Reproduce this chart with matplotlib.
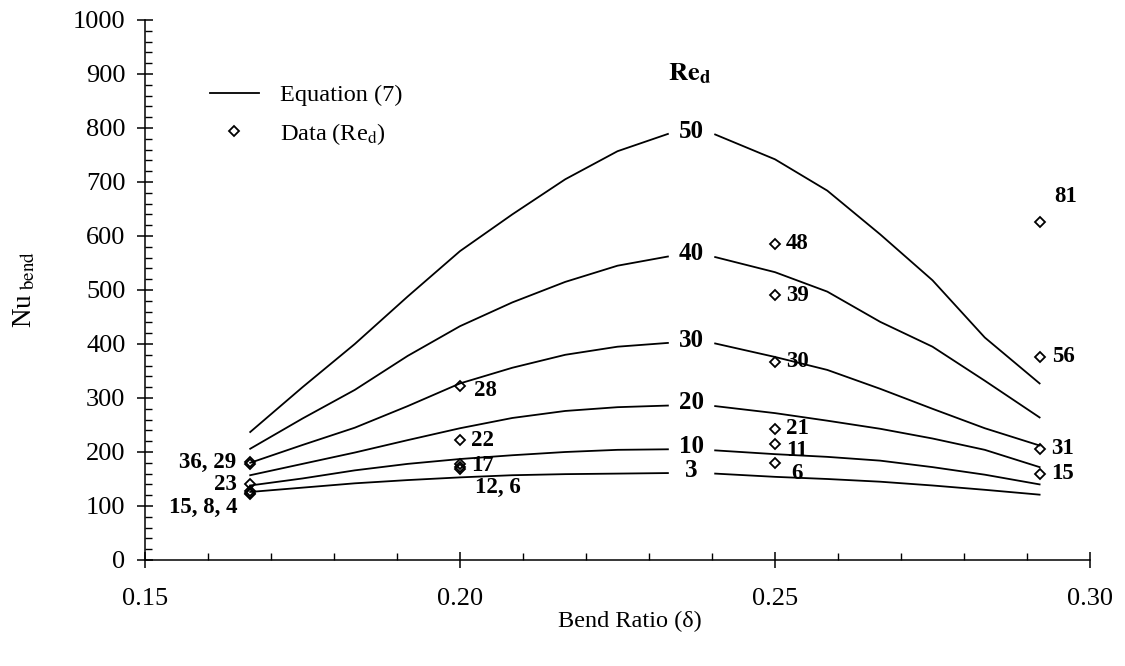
import matplotlib
matplotlib.use("Agg")
import matplotlib.pyplot as plt
from matplotlib.lines import Line2D
from matplotlib.ticker import MultipleLocator

plt.rcParams.update(
    {
        "font.family": "serif",
        "font.serif": ["Liberation Serif", "DejaVu Serif"],
        "mathtext.fontset": "stix",
        "axes.linewidth": 1.1,
    }
)

# Equation (7) curves, one per Re_d, split around the in-line label
re_values = [3, 10, 20, 30, 40, 50]
delta_left = [0.1667, 0.175, 0.1833, 0.1917, 0.20, 0.2083, 0.2167, 0.225, 0.233]
delta_right = [0.2405, 0.25, 0.2583, 0.2667, 0.275, 0.2833, 0.292]
nu_left = [
    [126, 134, 142, 148, 153, 157, 159, 160, 161],
    [138, 151, 166, 178, 187, 194, 200, 204, 205],
    [157, 178, 199, 222, 244, 263, 276, 283, 286],
    [180, 213, 245, 285, 327, 356, 380, 395, 402],
    [206, 262, 315, 378, 433, 477, 515, 545, 562],
    [237, 320, 400, 488, 572, 640, 705, 757, 789],
]
nu_right = [
    [160, 154, 150, 145, 138, 130, 121],
    [203, 196, 191, 184, 172, 158, 140],
    [285, 272, 258, 243, 225, 204, 172],
    [401, 376, 352, 317, 280, 244, 212],
    [561, 533, 497, 441, 395, 332, 264],
    [788, 742, 684, 603, 518, 412, 327],
]

# measured data points
data_delta = [0.1667] * 6 + [0.20] * 5 + [0.25] * 6 + [0.292] * 4
data_re = [36, 29, 23, 15, 8, 4, 28, 22, 17, 12, 6, 48, 39, 30, 21, 11, 6, 81, 56, 31, 15]
data_nu = [182, 177, 141, 127, 124, 122, 322, 222, 177, 173, 169,
           586, 490, 367, 243, 214, 180, 626, 376, 206, 160]

# point label groups: text, anchor point
label_text = ["36, 29", "23", "15, 8, 4", "28", "22", "17", "12, 6",
              "48", "39", "30", "21", "11", "6", "81", "56", "31", "15"]
label_delta = [0.1667, 0.1667, 0.1667, 0.20, 0.20, 0.20, 0.20,
               0.25, 0.25, 0.25, 0.25, 0.25, 0.25, 0.292, 0.292, 0.292, 0.292]
label_nu = [180, 141, 124, 322, 222, 177, 173, 586, 490, 367, 243, 214, 180, 626, 376, 206, 160]
# offsets in pixels (layout only)
label_off = [(-14, 0, "right"), (-13, -1, "right"), (-13, -14, "right"),
             (14, -4, "left"), (11, 0, "left"), (11, -1, "left"), (15, -21, "left"),
             (11, 0, "left"), (11, 0, "left"), (11, 0, "left"), (11, 0, "left"),
             (11, -6, "left"), (16, -11, "left"),
             (15, 25, "left"), (12, 0, "left"), (12, 0, "left"), (12, 0, "left")]

fig = plt.figure(figsize=(11.25, 6.66), dpi=100)
ax = fig.add_axes([145 / 1125, 106 / 666, 945 / 1125, 540 / 666])

for re, yl, yr in zip(re_values, nu_left, nu_right):
    ax.plot(delta_left, yl, color="black", lw=1.3)
    ax.plot(delta_right, yr, color="black", lw=1.3)
    ax.annotate(str(re), ((delta_left[-1] + delta_right[0]) / 2, (yl[-1] + yr[0]) / 2),
                xytext=(0, 3), textcoords="offset pixels",
                ha="center", va="center", fontsize=18, fontweight="bold")

ax.text(0.2365, 901, r"$\mathbf{Re}_{\mathbf{d}}$", ha="center", va="center", fontsize=19)

ax.plot(data_delta, data_nu, linestyle="none", marker="D", markersize=5.5,
        mfc="none", mec="black", mew=1.3)

for txt, dx, yv, (ox, oy, ha) in zip(label_text, label_delta, label_nu, label_off):
    ax.annotate(txt, (dx, yv), xytext=(ox, oy), textcoords="offset pixels",
                ha=ha, va="center", fontsize=16.5, fontweight="bold")

ax.set_xlim(0.15, 0.30)
ax.set_ylim(0, 1000)
ax.xaxis.set_major_locator(MultipleLocator(0.05))
ax.xaxis.set_minor_locator(MultipleLocator(0.01))
ax.yaxis.set_major_locator(MultipleLocator(100))
ax.yaxis.set_minor_locator(MultipleLocator(20))
ax.xaxis.set_major_formatter(plt.FormatStrFormatter("%.2f"))
ax.tick_params(which="major", direction="inout", length=12, width=1.1, labelsize=19)
ax.tick_params(which="minor", direction="in", length=5, width=1.0)
ax.tick_params(axis="x", which="major", pad=14)
ax.tick_params(axis="y", which="major", pad=8)
ax.spines["top"].set_visible(False)
ax.spines["right"].set_visible(False)

fig.text(630 / 1125, 1 - 621 / 666, "Bend Ratio (δ)", ha="center", va="center", fontsize=17.5)
fig.text(25 / 1125, 1 - 290 / 666, r"Nu$_{\ \mathrm{bend}}$", ha="center", va="center",
         rotation=90, fontsize=19.5)

handles = [
    Line2D([], [], color="black", lw=1.3),
    Line2D([], [], linestyle="none", marker="D", markersize=5.5, mfc="none", mec="black", mew=1.3),
]
ax.legend(handles, ["Equation (7)", r"Data (Re$_\mathrm{d}$)"], loc="upper left",
          bbox_to_anchor=(210 / 1125, 1 - 84 / 666), bbox_transform=fig.transFigure,
          frameon=False, fontsize=17.5, handlelength=2.0, handletextpad=0.9,
          borderpad=0, borderaxespad=0, labelspacing=0.6)

fig.savefig("out.png", dpi=100)
